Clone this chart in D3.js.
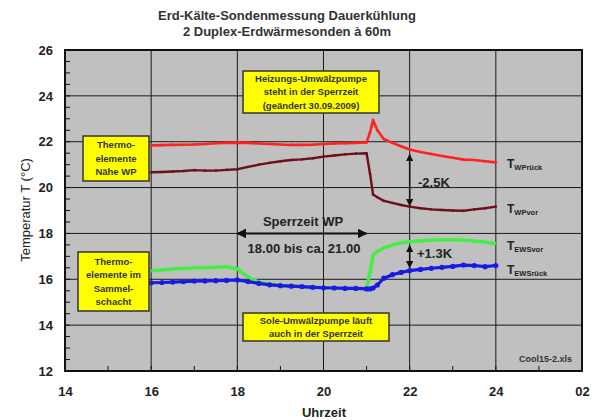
<!DOCTYPE html>
<html>
<head>
<meta charset="utf-8">
<script src="https://cdn.jsdelivr.net/npm/d3@7"></script>
<style>
  html, body { margin: 0; padding: 0; background: #fff; }
  svg { display: block; font-family: Arial, "Liberation Sans", sans-serif; }
</style>
</head>
<body>
<svg id="chart" width="598" height="420"></svg>
<script>
// Measurement times (hours of the day)
const hours = [16, 16.25, 16.5, 16.75, 17, 17.25, 17.5, 17.75, 18, 18.25, 18.5, 18.75,
  19, 19.25, 19.5, 19.75, 20, 20.25, 20.5, 20.75, 21.0, 21.08, 21.15, 21.25, 21.4,
  21.6, 21.8, 22, 22.25, 22.5, 22.75, 23, 23.25, 23.5, 23.75, 24];

// Return flow near heat pump
const tWPrueck = [21.84, 21.85, 21.86, 21.87, 21.88, 21.9, 21.93, 21.95, 21.96, 21.95, 21.92, 21.9,
  21.88, 21.86, 21.86, 21.87, 21.9, 21.92, 21.93, 21.95, 21.97, 22.4, 22.95, 22.5, 22.12,
  21.95, 21.8, 21.66, 21.55, 21.46, 21.38, 21.3, 21.22, 21.2, 21.15, 21.1];

// Supply flow near heat pump
const tWPvor = [20.67, 20.68, 20.7, 20.72, 20.76, 20.74, 20.74, 20.77, 20.8, 20.9, 21.0, 21.08,
  21.15, 21.2, 21.23, 21.28, 21.35, 21.4, 21.45, 21.48, 21.5, 20.6, 19.7, 19.58, 19.42,
  19.33, 19.24, 19.17, 19.1, 19.05, 19.02, 19.0, 18.99, 19.05, 19.1, 19.17];

// Supply flow in collector shaft
const tEWSvor = [16.37, 16.4, 16.45, 16.47, 16.5, 16.5, 16.52, 16.55, 16.45, 16.1, 15.87, 15.8,
  15.73, 15.7, 15.68, 15.65, 15.63, 15.62, 15.6, 15.6, 15.6, 16.3, 17.05, 17.22, 17.37,
  17.5, 17.58, 17.64, 17.68, 17.7, 17.72, 17.72, 17.7, 17.67, 17.62, 17.55];

// Return flow in collector shaft
const tEWSrueck = [15.85, 15.86, 15.88, 15.9, 15.92, 15.93, 15.94, 15.95, 15.97, 15.9, 15.82, 15.76,
  15.72, 15.7, 15.68, 15.65, 15.63, 15.62, 15.6, 15.6, 15.58, 15.58, 15.62, 15.75, 16.05,
  16.2, 16.3, 16.38, 16.43, 16.48, 16.52, 16.56, 16.62, 16.6, 16.55, 16.6];

const xTicks = [14, 16, 18, 20, 22, 24, 26];
const xTickLabels = ["14", "16", "18", "20", "22", "24", "02"];
const yTicks = [12, 14, 16, 18, 20, 22, 24, 26];

const svg = d3.select("#chart");
const plot = { left: 65, top: 50, right: 582, bottom: 371 };

const x = d3.scaleLinear().domain([14, 26]).range([plot.left, plot.right]);
const y = d3.scaleLinear().domain([12, 26]).range([plot.bottom, plot.top]);

// Plot background
svg.append("rect")
  .attr("x", plot.left).attr("y", plot.top)
  .attr("width", plot.right - plot.left).attr("height", plot.bottom - plot.top)
  .attr("fill", "#c0c0c0");

// Grid lines
const grid = svg.append("g").attr("stroke", "#1a1a1a").attr("stroke-width", 1);
grid.selectAll(".gx").data(xTicks.slice(1, -1)).join("line")
  .attr("x1", d => x(d)).attr("x2", d => x(d))
  .attr("y1", plot.top).attr("y2", plot.bottom);
grid.selectAll(".gy").data(yTicks.slice(1, -1)).join("line")
  .attr("x1", plot.left).attr("x2", plot.right)
  .attr("y1", d => y(d)).attr("y2", d => y(d));

// Inner tick marks
const yMinor = d3.range(12, 26.01, 0.5);
svg.append("g").selectAll("line").data(yMinor).join("line")
  .attr("x1", plot.left).attr("x2", plot.left + 5)
  .attr("y1", d => y(d)).attr("y2", d => y(d))
  .attr("stroke", "#111").attr("stroke-width", 1);
const xMinor = d3.range(14, 26.01, 1);
svg.append("g").selectAll("line").data(xMinor).join("line")
  .attr("x1", d => x(d)).attr("x2", d => x(d))
  .attr("y1", plot.bottom).attr("y2", plot.bottom - 5)
  .attr("stroke", "#111").attr("stroke-width", 1);

// Series
const series = [
  { values: tEWSvor, color: "#44ee44", width: 3.5, marker: 0 },
  { values: tEWSrueck, color: "#1a1ae6", width: 3.2, marker: 2.6 },
  { values: tWPvor, color: "#6e0f1c", width: 2.4, marker: 1.3 },
  { values: tWPrueck, color: "#ff2222", width: 2.6, marker: 1.3 }
];
const line = d3.line().x(d => x(d[0])).y(d => y(d[1]));
series.forEach(s => {
  const pts = hours.map((h, i) => [h, s.values[i]]);
  svg.append("path").datum(pts)
    .attr("d", line).attr("fill", "none")
    .attr("stroke", s.color).attr("stroke-width", s.width)
    .attr("stroke-linejoin", "round");
  if (s.marker > 0) {
    svg.append("g").selectAll("circle").data(pts).join("circle")
      .attr("cx", d => x(d[0])).attr("cy", d => y(d[1]))
      .attr("r", s.marker).attr("fill", s.color);
  }
});

// Plot border
svg.append("rect")
  .attr("x", plot.left).attr("y", plot.top)
  .attr("width", plot.right - plot.left).attr("height", plot.bottom - plot.top)
  .attr("fill", "none").attr("stroke", "#111").attr("stroke-width", 2);

// Axis tick labels
const axisY = d3.axisLeft(y).tickValues(yTicks).tickSize(0).tickPadding(12);
const gy = svg.append("g").attr("transform", `translate(${plot.left},0)`).call(axisY);
gy.select(".domain").remove();
gy.selectAll("text").attr("font-size", 13).attr("font-weight", "bold").attr("fill", "#222")
  .attr("font-family", "Arial, 'Liberation Sans', sans-serif");

const axisX = d3.axisBottom(x).tickValues(xTicks).tickSize(0).tickPadding(16)
  .tickFormat((d, i) => xTickLabels[i]);
const gx = svg.append("g").attr("transform", `translate(0,${plot.bottom})`).call(axisX);
gx.select(".domain").remove();
gx.selectAll("text").attr("font-size", 13).attr("font-weight", "bold").attr("fill", "#222")
  .attr("font-family", "Arial, 'Liberation Sans', sans-serif");

// Titles
const title = svg.append("g").attr("font-weight", "bold").attr("font-size", 13)
  .attr("fill", "#333").attr("text-anchor", "middle");
title.append("text").attr("x", 287).attr("y", 20).text("Erd-Kälte-Sondenmessung Dauerkühlung");
title.append("text").attr("x", 287).attr("y", 36).text("2 Duplex-Erdwärmesonden à 60m");

svg.append("text").attr("x", 324).attr("y", 417).attr("text-anchor", "middle")
  .attr("font-size", 13).attr("font-weight", "bold").attr("fill", "#222").text("Uhrzeit");
svg.append("text").attr("transform", "translate(30,210) rotate(-90)")
  .attr("text-anchor", "middle").attr("font-size", 13).attr("fill", "#222")
  .text("Temperatur T (°C)");

// Yellow note boxes
function note(x0, y0, w, h, lines, fs, lh) {
  const g = svg.append("g");
  g.append("rect").attr("x", x0).attr("y", y0).attr("width", w).attr("height", h)
    .attr("fill", "#ffff00").attr("stroke", "#333").attr("stroke-width", 1.5);
  const top = y0 + h / 2 - (lines.length - 1) * lh / 2 + fs * 0.35;
  lines.forEach((t, i) => {
    g.append("text").attr("x", x0 + w / 2).attr("y", top + i * lh)
      .attr("text-anchor", "middle").attr("font-size", fs).attr("font-weight", "bold")
      .attr("fill", "#333").text(t);
  });
}
note(83, 136, 66, 45, ["Thermo-", "elemente", "Nähe WP"], 9.5, 13.5);
note(243, 71, 136, 42, ["Heizungs-Umwälzpumpe", "steht in der Sperrzeit", "(geändert 30.09.2009)"], 9.5, 13.5);
note(78, 252, 71, 59, ["Thermo-", "elemente im", "Sammel-", "schacht"], 9.5, 13.5);
note(243, 313, 146, 28, ["Sole-Umwälzpumpe läuft", "auch in der Sperrzeit"], 9.5, 13);

// Arrows
const defs = svg.append("defs");
defs.append("marker").attr("id", "ah").attr("viewBox", "0 0 10 10")
  .attr("refX", 9).attr("refY", 5).attr("markerWidth", 5).attr("markerHeight", 5)
  .attr("orient", "auto-start-reverse")
  .append("path").attr("d", "M0,0 L10,5 L0,10 Z").attr("fill", "#111");

function arrow(x1, y1, x2, y2, w) {
  svg.append("line").attr("x1", x1).attr("y1", y1).attr("x2", x2).attr("y2", y2)
    .attr("stroke", "#111").attr("stroke-width", w)
    .attr("marker-start", "url(#ah)").attr("marker-end", "url(#ah)");
}
arrow(x(18), y(18), x(21), y(18), 2);
arrow(x(22), y(tWPrueck[27]) + 5, x(22), y(tWPvor[27]) - 1, 1.5);
arrow(x(22), y(tEWSvor[27]) + 4, x(22), y(tEWSrueck[27]) - 3, 1.5);

svg.append("text").attr("x", 303).attr("y", 226).attr("text-anchor", "middle")
  .attr("font-size", 13).attr("font-weight", "bold").attr("fill", "#222").text("Sperrzeit WP");
svg.append("text").attr("x", 304).attr("y", 253).attr("text-anchor", "middle")
  .attr("font-size", 13).attr("font-weight", "bold").attr("fill", "#222").text("18.00 bis ca. 21.00");
svg.append("text").attr("x", 418).attr("y", 187)
  .attr("font-size", 13).attr("font-weight", "bold").attr("fill", "#222").text("-2.5K");
svg.append("text").attr("x", 417).attr("y", 258)
  .attr("font-size", 13).attr("font-weight", "bold").attr("fill", "#222").text("+1.3K");

// Series labels
const seriesLabels = [
  { sub: "WPrück", yy: 168 },
  { sub: "WPvor", yy: 213 },
  { sub: "EWSvor", yy: 250 },
  { sub: "EWSrück", yy: 274 }
];
seriesLabels.forEach(l => {
  const t = svg.append("text").attr("x", 507).attr("y", l.yy)
    .attr("font-weight", "bold").attr("fill", "#222");
  t.append("tspan").attr("font-size", 12).text("T");
  t.append("tspan").attr("font-size", 7.5).attr("dy", 2).text(l.sub);
});

svg.append("text").attr("x", 572).attr("y", 362).attr("text-anchor", "end")
  .attr("font-size", 9).attr("font-weight", "bold").attr("fill", "#333").text("Cool15-2.xls");
</script>
</body>
</html>
